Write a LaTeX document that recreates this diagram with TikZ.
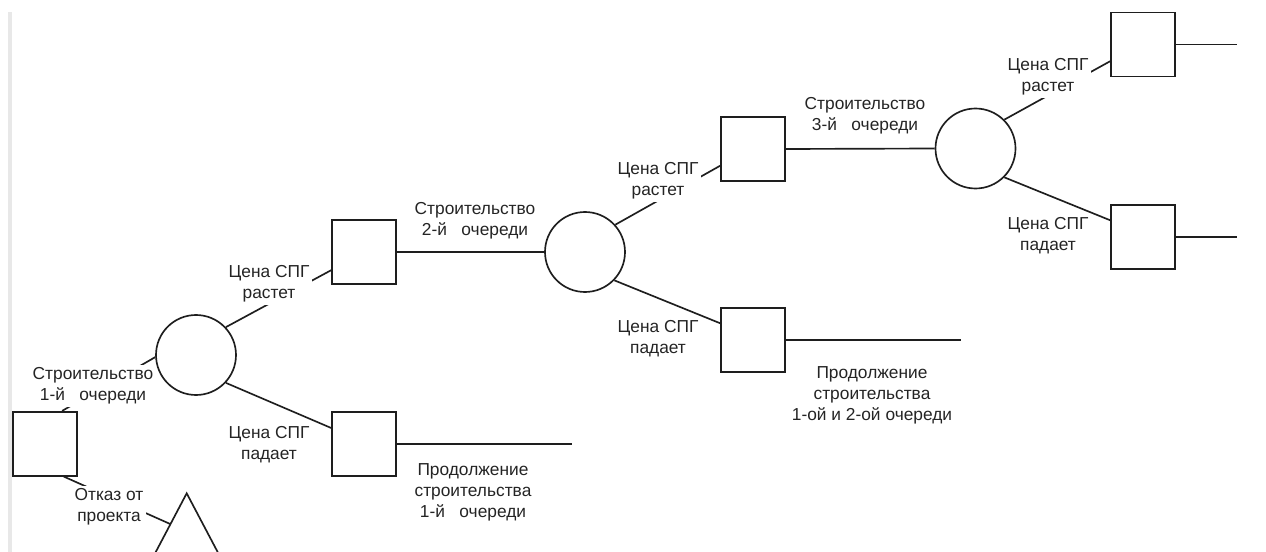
\documentclass[tikz,border=0pt]{standalone}
\usepackage{fontspec}
\setsansfont{Liberation Sans}
\usetikzlibrary{calc}
\definecolor{ink}{HTML}{1E1E1E}
\definecolor{txt}{HTML}{242424}
\definecolor{rule}{HTML}{E8E8E8}
\tikzset{
  sq/.style={draw=ink,line width=1.25pt,minimum size=48pt,inner sep=0pt},
  chance/.style={circle,draw=ink,line width=1.25pt,minimum size=60pt,inner sep=0pt},
  ln/.style={draw=ink,line width=1.25pt},
  lbl/.style={align=center,font=\sffamily\fontsize{13}{15.75}\selectfont,text=txt,inner sep=2pt},
  lblw/.style={lbl,fill=white},
}
\begin{document}
\begin{tikzpicture}[x=0.75pt,y=-0.75pt]
  \useasboundingbox (0,0) rectangle (1266,552);
  \draw[rule,line width=3pt] (10,12) -- (10,552);

  \node[sq] (root) at (44.7,443.7) {};
  \node[chance] (ch1) at (196,355) {};
  \node[sq] (up1) at (364,252) {};
  \node[sq] (dn1) at (364,444) {};
  \node[chance] (ch2) at (585,252) {};
  \node[sq] (up2) at (753,149) {};
  \node[sq] (dn2) at (753,340) {};
  \node[chance] (ch3) at (975.5,148.5) {};
  \node[sq] (up3) at (1143,44.5) {};
  \node[sq] (dn3) at (1143,237) {};
  \draw[ln] (186.7,493.3) coordinate (apex) -- ++(-58,110) coordinate (bl) -- ++(116,0) -- cycle;
  \coordinate (stop) at ($(apex)!0.28!(bl)$);
  \coordinate (e1) at (572,444);
  \coordinate (e2) at (961,340);
  \coordinate (e3u) at (1237,44.5);
  \coordinate (e3d) at (1237,237);

  \draw[ln] (root.62) -- (ch1.183); \draw[ln] (root.-60) -- (stop);
  \draw[ln] (ch1.43) -- (up1.209); \draw[ln] (ch1.-43) -- (dn1.154);
  \draw[ln] (up1.east) -- (ch2.west); \draw[ln] (dn1.east) -- (e1);
  \draw[ln] (ch2.42) -- (up2.207); \draw[ln] (ch2.-44) -- (dn2.153);
  \draw[ln] (up2.east) -- (ch3.west); \draw[ln] (dn2.east) -- (e2);
  \draw[ln] (ch3.45) -- (up3.207); \draw[ln] (ch3.-45) -- (dn3.153);
  \draw[ln] (up3.east) -- (e3u); \draw[ln] (dn3.east) -- (e3d);

  \node[lblw] (t0) at (93,386) {Строительство\\1-й~~~очереди};
  \node[lblw] (t1) at (109,507) {Отказ от\\проекта};
  \node[lblw] (r1) at (269,284) {Цена СПГ\\растет};
  \node[lbl] (f1) at (269,445) {Цена СПГ\\падает};
  \node[lbl] (t2) at (475,221) {Строительство\\2-й~~~очереди};
  \node[lbl] (k1) at (473,492) {Продолжение\\строительства\\1-й~~~очереди};
  \node[lblw] (r2) at (658,181) {Цена СПГ\\растет};
  \node[lbl] (f2) at (658,339) {Цена СПГ\\падает};
  \node[lbl] (t3) at (865,116) {Строительство\\3-й~~~очереди};
  \node[lbl] (k2) at (872,395) {Продолжение\\строительства\\1-ой и 2-ой очереди};
  \node[lblw] (r3) at (1048,77) {Цена СПГ\\растет};
  \node[lbl] (f3) at (1048,236) {Цена СПГ\\падает};
\end{tikzpicture}
\end{document}
